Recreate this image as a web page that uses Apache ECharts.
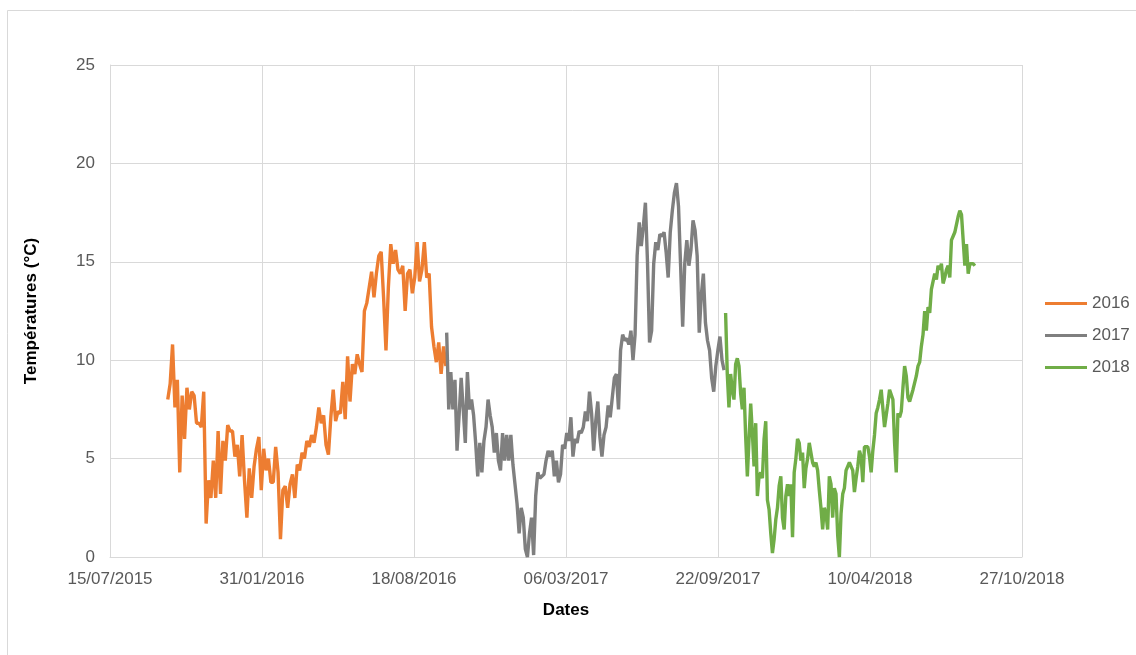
<!DOCTYPE html>
<html>
<head>
<meta charset="utf-8">
<script src="https://cdn.jsdelivr.net/npm/echarts@6/dist/echarts.min.js"></script>
<style>
  html, body { margin: 0; padding: 0; background: #fff; }
  #main { width: 1136px; height: 655px; }
</style>
</head>
<body>
<div id="main"></div>
<script>
// axis origin, all x values are days counted from this date
var baseDate = '2015-07-15';
var axisDays = [0, 1200];
var tickDays = 200;
var yTicks = [0, 25, 5];

var seriesNames = ['2016', '2017', '2018'];
var seriesColors = ['#ED7D31', '#7F7F7F', '#70AD47'];

// first and last day of each series (readings are evenly spread between them)
var period2016 = ['2015-09-29', '2016-09-29'];
var period2017 = ['2016-09-30', '2017-09-30'];
var period2018 = ['2017-10-02', '2018-08-26'];

var temp2016 = [8.0, 8.8, 10.8, 7.6, 9.0, 4.3, 8.2, 6.0, 8.6, 7.5, 8.4, 8.2, 6.8, 6.8, 6.6, 8.4, 1.7, 3.9, 3.0, 4.9,
  3.0, 6.4, 3.2, 5.9, 4.9, 6.7, 6.4, 6.4, 5.1, 5.7, 4.1, 6.2, 3.9, 2.0, 4.5, 3.0, 4.6, 5.5, 6.1, 3.4,
  5.5, 4.4, 5.0, 3.8, 3.8, 5.6, 4.3, 0.9, 3.4, 3.6, 2.5, 3.7, 4.2, 3.0, 4.7, 4.4, 5.3, 5.0, 5.9, 5.6,
  6.2, 5.8, 6.6, 7.6, 6.8, 7.2, 5.7, 5.2, 7.1, 8.5, 6.9, 7.4, 7.3, 8.9, 7.0, 10.2, 7.9, 9.8, 9.3, 10.3,
  9.8, 9.4, 12.5, 12.9, 13.7, 14.5, 13.2, 14.4, 15.3, 15.5, 13.2, 10.5, 13.7, 15.9, 14.9, 15.6, 14.6, 14.4, 14.8, 12.5,
  14.4, 14.6, 13.4, 14.2, 16.0, 14.0, 14.6, 16.0, 14.2, 14.4, 11.7, 10.7, 9.9, 10.9, 9.3, 10.7, 9.7];

var temp2017 = [11.4, 7.5, 9.4, 7.5, 9.0, 5.4, 7.2, 9.1, 7.5, 5.8, 9.4, 7.5, 8.0, 7.2, 5.8, 4.1, 5.8, 4.3, 5.9, 6.6,
  8.0, 7.2, 6.6, 5.3, 6.3, 4.9, 4.4, 6.3, 4.9, 6.2, 4.9, 6.2, 4.7, 3.7, 2.7, 1.2, 2.5, 2.0, 0.4, 0.0,
  1.2, 2.0, 0.1, 3.1, 4.3, 4.0, 4.1, 4.2, 4.9, 5.4, 5.1, 5.4, 4.1, 4.9, 3.8, 4.2, 5.7, 5.5, 6.3, 5.9,
  7.1, 5.1, 6.0, 5.8, 6.4, 6.3, 6.6, 7.4, 6.9, 8.4, 7.3, 5.4, 6.9, 7.9, 6.1, 5.1, 6.2, 6.6, 7.7, 7.1,
  8.1, 9.1, 9.3, 7.5, 10.5, 11.3, 11.0, 11.1, 10.8, 11.5, 10.0, 11.3,
  15.3, 17.0, 15.8, 16.8, 18.0, 15.0, 10.9, 11.5, 14.9, 16.0, 15.6, 16.4, 16.3, 16.5, 15.5, 14.2, 16.5, 17.6,
  18.5, 19.0, 17.8, 14.8, 11.7, 14.9, 16.1, 14.8, 15.6, 17.1, 16.6, 15.3, 11.4, 13.3, 14.4, 11.9, 11.0, 10.5,
  9.1, 8.4, 9.7, 10.5, 11.2, 10.0, 9.5];

var temp2018 = [12.4, 9.3, 7.6, 9.3, 8.5, 8.0, 9.8, 10.1, 9.7, 8.3, 7.5, 8.6, 6.1, 4.1, 6.0, 7.8, 6.3, 4.6, 6.8, 3.1,
  4.1, 4.3, 4.0, 6.0, 6.9, 2.9, 2.4, 1.2, 0.2, 0.9, 1.9, 2.5, 3.6, 4.1, 2.0, 1.4, 3.1, 3.7, 3.1, 3.7,
  1.0, 4.3, 5.0, 6.0, 5.8, 4.9, 5.3, 3.5, 4.5, 5.0, 5.8, 5.8, 4.8, 4.6, 4.8, 4.4, 3.4, 2.5, 1.4, 2.5,
  2.2, 1.4, 4.1, 3.7, 2.0, 3.5, 3.2, 1.1, 0.0, 2.2, 3.2, 3.5, 4.4, 4.6, 4.8, 4.7, 4.4, 3.3, 4.0, 4.6,
  5.4, 5.1, 3.8, 5.6, 5.7, 5.6, 5.1, 4.3, 5.4, 6.2, 7.3, 7.6, 8.0, 8.5, 8.6, 6.6, 6.6, 7.8, 8.5, 8.6,
  8.0, 5.8, 4.3, 7.3, 7.1, 7.4, 8.6, 9.7, 9.2, 8.1, 7.9, 7.9, 8.5, 8.6, 9.2, 9.7, 9.9, 10.7, 11.3, 12.5,
  11.5, 12.7, 12.4, 13.6, 13.7, 14.4, 14.1, 14.8, 14.6, 14.9, 13.9, 14.2, 14.6, 14.8, 14.2, 16.1, 16.3, 16.5, 16.6, 17.3,
  17.6, 17.4, 16.1, 14.8, 15.9, 14.4, 14.9, 14.8, 14.9, 14.8];

var DAY = 86400000;
function toUTC(s) {
    var p = s.split('-');
    return Date.UTC(+p[0], +p[1] - 1, +p[2]);
}
function dayOf(s) {
    return Math.round((toUTC(s) - toUTC(baseDate)) / DAY);
}
function pad(n) { return n < 10 ? '0' + n : '' + n; }
function dayLabel(v) {
    var d = new Date(toUTC(baseDate) + v * DAY);
    return pad(d.getUTCDate()) + '/' + pad(d.getUTCMonth() + 1) + '/' + d.getUTCFullYear();
}
function buildPoints(period, values) {
    var a = dayOf(period[0]), b = dayOf(period[1]);
    var step = (b - a) / (values.length - 1);
    return values.map(function (v, i) { return [a + i * step, v]; });
}

var chart = echarts.init(document.getElementById('main'));
var font = 'Liberation Sans, Arial, sans-serif';
var periods = [period2016, period2017, period2018];
var temps = [temp2016, temp2017, temp2018];

var option = {
    animation: false,
    backgroundColor: '#fff',
    graphic: [{
        type: 'rect',
        shape: { x: 7.5, y: 10.5, width: 1200, height: 700 },
        style: { fill: 'none', stroke: '#D9D9D9', lineWidth: 1 },
        silent: true
    }],
    grid: { left: 110, right: 114, top: 65, bottom: 98 },
    legend: {
        orient: 'vertical',
        left: 1040,
        top: 290,
        itemWidth: 42,
        itemHeight: 3,
        itemGap: 15,
        icon: 'rect',
        textStyle: { color: '#595959', fontSize: 17, fontFamily: font },
        data: seriesNames
    },
    xAxis: {
        type: 'value',
        min: axisDays[0],
        max: axisDays[1],
        interval: tickDays,
        name: 'Dates',
        nameLocation: 'middle',
        nameGap: 45,
        nameTextStyle: { color: '#000', fontSize: 17, fontWeight: 'bold', fontFamily: font },
        axisLine: { show: true, lineStyle: { color: '#D9D9D9' } },
        axisTick: { show: false },
        axisLabel: { color: '#595959', fontSize: 17, fontFamily: font, margin: 14, formatter: dayLabel },
        splitLine: { show: true, lineStyle: { color: '#D9D9D9' } }
    },
    yAxis: {
        type: 'value',
        min: yTicks[0],
        max: yTicks[1],
        interval: yTicks[2],
        name: 'Températures (°C)',
        nameLocation: 'middle',
        nameGap: 70,
        nameTextStyle: { color: '#000', fontSize: 17, fontWeight: 'bold', fontFamily: font },
        axisLine: { show: true, lineStyle: { color: '#D9D9D9' } },
        axisTick: { show: false },
        axisLabel: { color: '#595959', fontSize: 17, fontFamily: font, margin: 15 },
        splitLine: { show: true, lineStyle: { color: '#D9D9D9' } }
    },
    series: seriesNames.map(function (name, k) {
        return {
            name: name,
            type: 'line',
            symbol: 'none',
            color: seriesColors[k],
            lineStyle: { width: 3.4, color: seriesColors[k] },
            data: buildPoints(periods[k], temps[k])
        };
    })
};

chart.setOption(option);
</script>
</body>
</html>
